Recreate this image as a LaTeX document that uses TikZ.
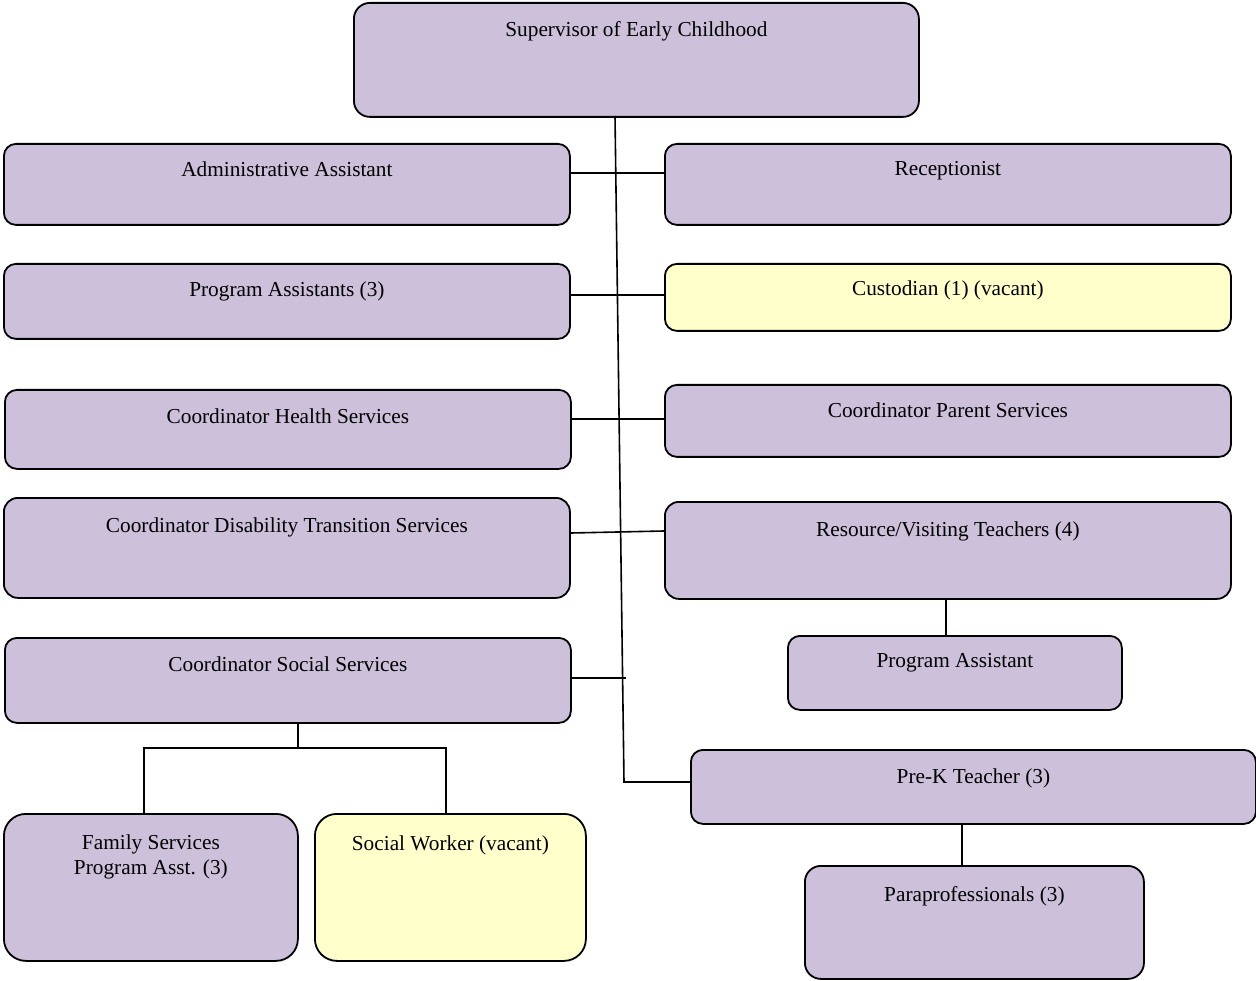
\documentclass[tikz,border=0pt]{standalone}
\usepackage{fontspec}
\setmainfont{Liberation Serif}
\usetikzlibrary{positioning}

\definecolor{lilac}{RGB}{204,192,218}
\definecolor{cream}{RGB}{255,255,204}

\tikzset{
	post/.style={draw, line width=1.8pt, rounded corners=12pt, fill=lilac, anchor=north west, inner sep=0pt},
	vacant/.style={post, fill=cream},
	title/.style={font=\fontsize{21.3}{25}\selectfont, align=center, inner sep=0pt},
	link/.style={line width=1.6pt},
}

\begin{document}
\begin{tikzpicture}[x=1pt, y=-1pt]
	\useasboundingbox (0,0) rectangle (1256,981);

	% boxes
	\node[post, minimum width=565, minimum height=114, rounded corners=16pt] (sup) at (353,2) {};
	\node[post, minimum width=566, minimum height=81] (admin) at (3,143) {};
	\node[post, minimum width=566, minimum height=81] (recep) at (664,143) {};
	\node[post, minimum width=566, minimum height=75] (progs) at (3,263) {};
	\node[vacant, minimum width=566, minimum height=67] (cust) at (664,263) {};
	\node[post, minimum width=566, minimum height=79] (health) at (4,389) {};
	\node[post, minimum width=566, minimum height=72] (parent) at (664,384) {};
	\node[post, minimum width=566, minimum height=100, rounded corners=14pt] (disab) at (3,497) {};
	\node[post, minimum width=566, minimum height=97, rounded corners=14pt] (visit) at (664,501) {};
	\node[post, minimum width=334, minimum height=74] (passt) at (787,635) {};
	\node[post, minimum width=566, minimum height=85] (social) at (4,637) {};
	\node[post, minimum width=565, minimum height=74] (prek) at (690,749) {};
	\node[post, minimum width=339, minimum height=113, rounded corners=16pt] (para) at (804,865) {};
	\node[post, minimum width=294, minimum height=147, rounded corners=22pt] (family) at (3,813) {};
	\node[vacant, minimum width=271, minimum height=147, rounded corners=22pt] (worker) at (314,813) {};

	% titles
	\node[title, below=19.5pt of sup.north] (sup-t) {Supervisor of Early Childhood};
	\node[title, below=18.5pt of admin.north] (admin-t) {Administrative Assistant};
	\node[title, below=18.5pt of recep.north] (recep-t) {Receptionist};
	\node[title, below=18.5pt of progs.north] (progs-t) {Program Assistants (3)};
	\node[title, below=17.5pt of cust.north] (cust-t) {Custodian (1) (vacant)};
	\node[title, below=19.5pt of health.north] (health-t) {Coordinator Health Services};
	\node[title, below=18.5pt of parent.north] (parent-t) {Coordinator Parent Services};
	\node[title, below=20.5pt of disab.north] (disab-t) {Coordinator Disability Transition Services};
	\node[title, below=20.5pt of visit.north] (visit-t) {Resource/Visiting Teachers (4)};
	\node[title, below=18.5pt of passt.north] (passt-t) {Program Assistant};
	\node[title, below=19.5pt of social.north] (social-t) {Coordinator Social Services};
	\node[title, below=19.5pt of prek.north] (prek-t) {Pre-K Teacher (3)};
	\node[title, below=21.5pt of para.north] (para-t) {Paraprofessionals (3)};
	\node[title, below=21.5pt of family.north] (family-t) {Family Services\\Program Asst. (3)};
	\node[title, below=22.5pt of worker.north] (worker-t) {Social Worker (vacant)};

	% connectors
	\coordinate (trunk-top) at (615,116);
	\coordinate (trunk-end) at (624,782);
	\coordinate (fork) at (298,748);

	\draw[link] (trunk-top) -- (trunk-end) -- (trunk-end -| prek.west);
	\draw[link] (admin.east |- 0,173) -- (recep.west |- 0,173);
	\draw[link] (progs.east |- 0,295) -- (cust.west |- 0,295);
	\draw[link] (health.east |- 0,419) -- (parent.west |- 0,419);
	\draw[link] (disab.east |- 0,533) -- (visit.west |- 0,531);
	\draw[link] (social.east |- 0,678) -- ++(54,0);
	\draw[link] (visit.south -| 946,0) -- (passt.north -| 946,0);
	\draw[link] (prek.south -| 962,0) -- (para.north -| 962,0);
	\draw[link] (social.south -| fork) -- (fork);
	\draw[link] (family.north -| 144,0) |- (fork) -| (worker.north -| 446,0);
\end{tikzpicture}
\end{document}
